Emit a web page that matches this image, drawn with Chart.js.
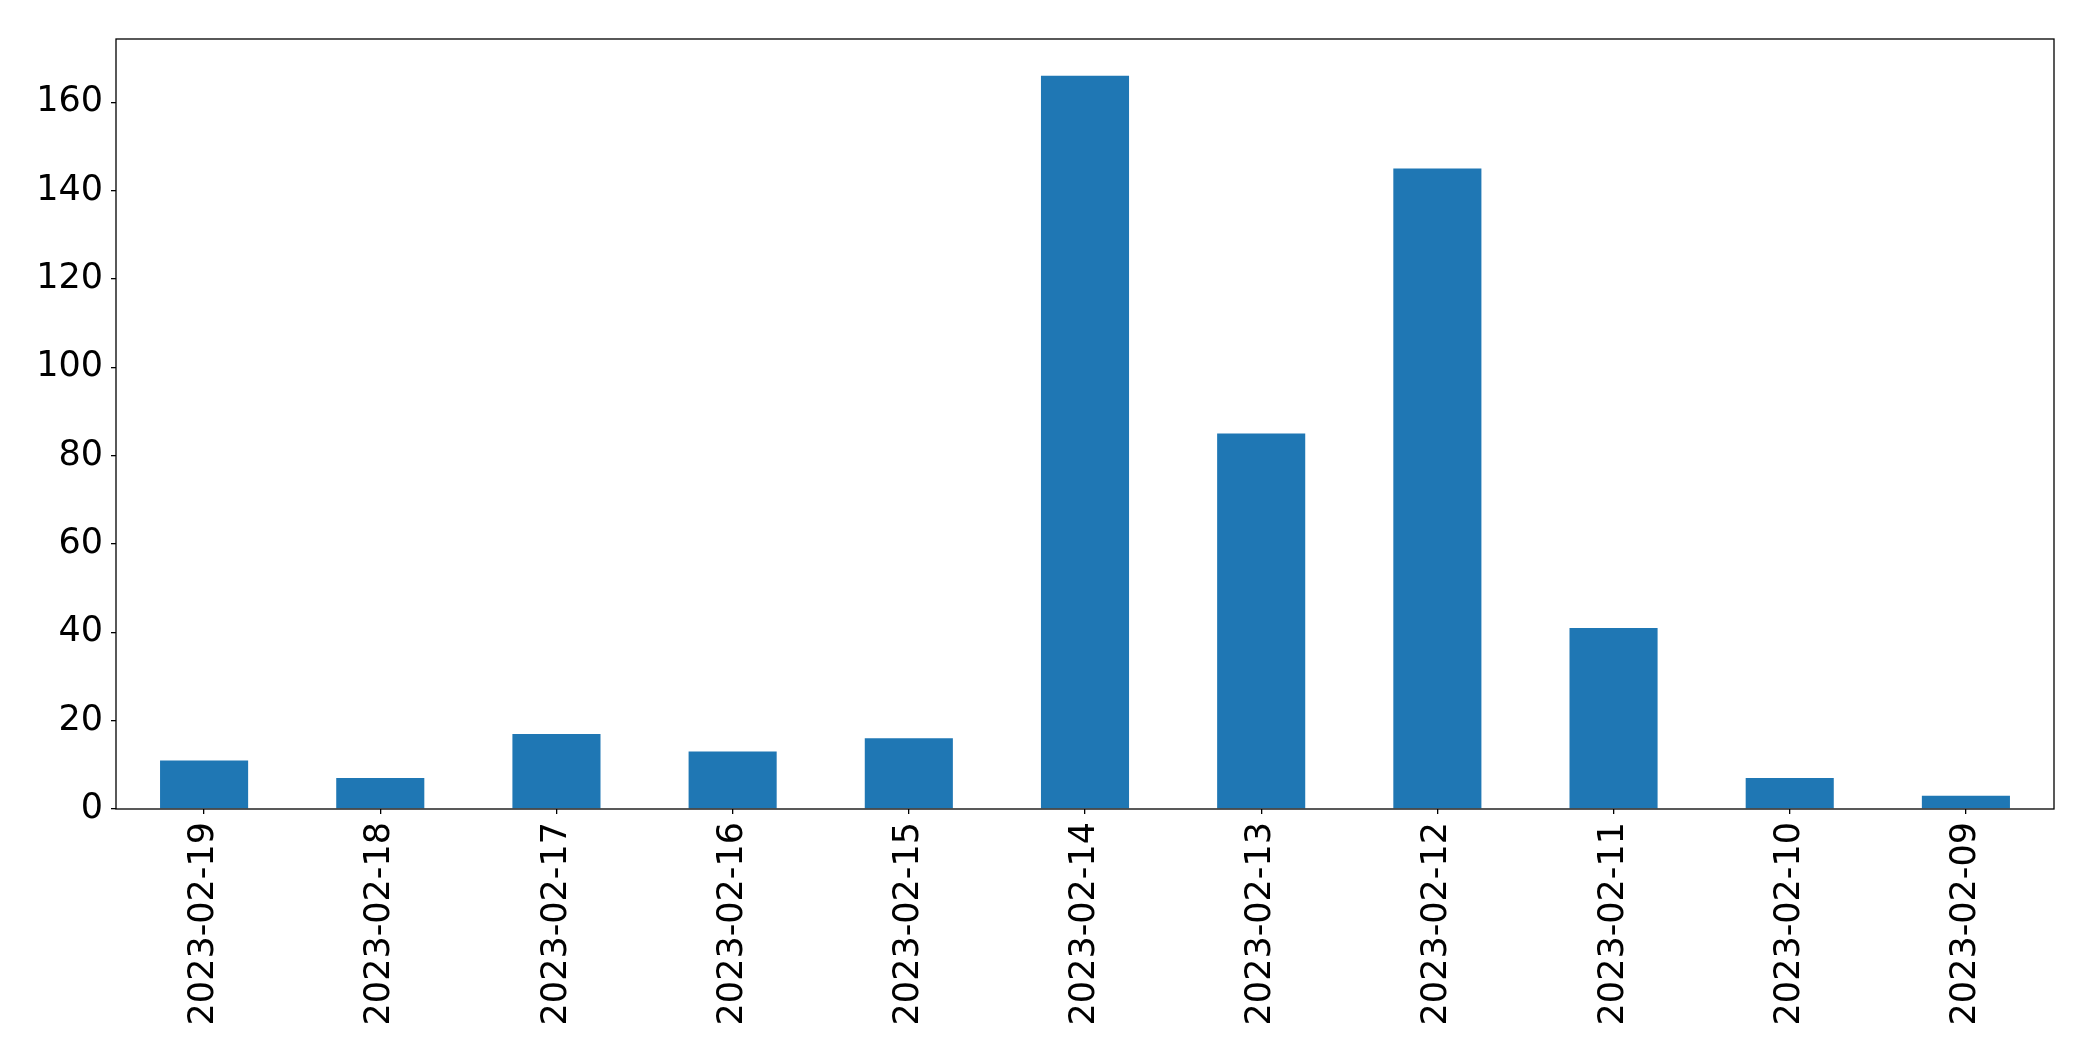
<!DOCTYPE html>
<html>
<head>
<meta charset="utf-8">
<script src="https://cdn.jsdelivr.net/npm/chart.js@4.4.0/dist/chart.umd.min.js"></script>
<style>
  html, body { margin: 0; padding: 0; background: #fff; }
  #chart-wrap { width: 2093px; height: 1061px; }
</style>
</head>
<body>
<div id="chart-wrap"><canvas id="daily-counts"></canvas></div>
<script>
const dates = [
    "2023-02-19", "2023-02-18", "2023-02-17", "2023-02-16", "2023-02-15", "2023-02-14",
    "2023-02-13", "2023-02-12", "2023-02-11", "2023-02-10", "2023-02-09"
];
const counts = [11, 7, 17, 13, 16, 166, 85, 145, 41, 7, 3];
const yTickStep = 20;
const yMax = 174.3;

const barColor = "#1f77b4";
const fontFamily = "'DejaVu Sans', sans-serif";

// box round the plot area, like matplotlib spines
const frameBox = {
    id: "frameBox",
    afterDraw(chart) {
        const { ctx, chartArea } = chart;
        ctx.save();
        ctx.strokeStyle = "#000";
        ctx.lineWidth = 1.3;
        ctx.strokeRect(chartArea.left, chartArea.top, chartArea.right - chartArea.left, chartArea.bottom - chartArea.top);
        ctx.restore();
    }
};

const canvasEl = document.getElementById("daily-counts");

new Chart(canvasEl, {
    type: "bar",
    data: {
        labels: dates,
        datasets: [{
            data: counts,
            backgroundColor: barColor,
            borderWidth: 0,
            categoryPercentage: 1.0,
            barPercentage: 0.5
        }]
    },
    options: {
        responsive: true,
        maintainAspectRatio: false,
        animation: false,
        layout: {
            padding: { top: 39, right: 39, left: 0, bottom: 0 }
        },
        plugins: {
            legend: { display: false },
            tooltip: { enabled: false }
        },
        scales: {
            x: {
                offset: true,
                grid: {
                    offset: false,
                    drawOnChartArea: false,
                    drawTicks: true,
                    tickLength: 5,
                    color: "#000",
                    lineWidth: 1.3
                },
                border: { display: false },
                ticks: {
                    color: "#000",
                    font: { family: fontFamily, size: 35 },
                    maxRotation: 90,
                    minRotation: 90,
                    autoSkip: false,
                    padding: 8
                },
                afterFit(scale) {
                    scale.height = 252;
                }
            },
            y: {
                min: 0,
                max: yMax,
                grid: {
                    drawOnChartArea: false,
                    drawTicks: true,
                    tickLength: 5,
                    color: "#000",
                    lineWidth: 1.3
                },
                border: { display: false },
                ticks: {
                    stepSize: yTickStep,
                    color: "#000",
                    font: { family: fontFamily, size: 35 },
                    padding: 8
                },
                afterBuildTicks(scale) {
                    scale.ticks = scale.ticks.filter((t) => t.value % yTickStep === 0);
                },
                afterFit(scale) {
                    scale.width = 116;
                }
            }
        }
    },
    plugins: [frameBox]
});
</script>
</body>
</html>
